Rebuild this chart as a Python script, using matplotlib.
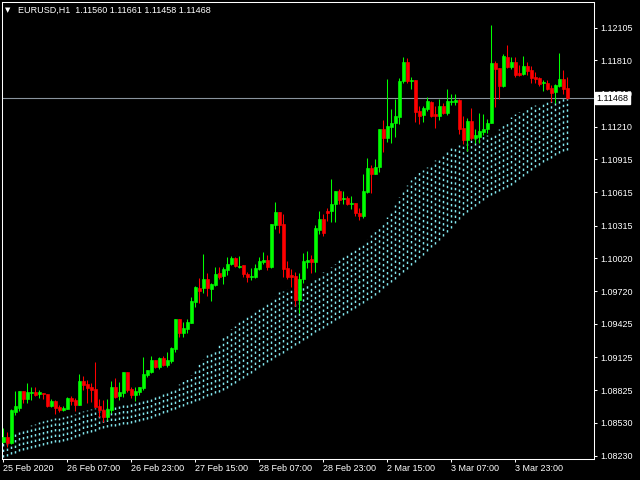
import matplotlib
matplotlib.use("Agg")
import matplotlib.pyplot as plt
import numpy as np

plt.rcParams['font.family'] = ['Liberation Sans', 'DejaVu Sans']

symbol = "EURUSD,H1"
last_ohlc = [1.11560, 1.11661, 1.11458, 1.11468]
current_price = 1.11468

opens = [
    1.08359, 1.08398, 1.08344, 1.08630, 1.08661, 1.08817, 1.08745, 1.08802, 1.08811, 1.08788,
    1.08797, 1.08790, 1.08684, 1.08727, 1.08675, 1.08645, 1.08654, 1.08757, 1.08736, 1.08691,
    1.08908, 1.08881, 1.08856, 1.08836, 1.08682, 1.08645, 1.08582, 1.08645, 1.08856, 1.08772,
    1.08797, 1.08989, 1.08833, 1.08781, 1.08811, 1.08847, 1.08962, 1.08992, 1.09098, 1.09037,
    1.09113, 1.09053, 1.09092, 1.09195, 1.09469, 1.09340, 1.09376, 1.09436, 1.09626, 1.09750,
    1.09747, 1.09828, 1.09741, 1.09777, 1.09883, 1.09861, 1.09913, 1.09967, 1.10018, 1.09942,
    1.09958, 1.09876, 1.09846, 1.09846, 1.09919, 1.09988, 1.10003, 1.09937, 1.10320, 1.10437,
    1.10329, 1.09928, 1.09867, 1.09858, 1.09641, 1.09828, 1.09988, 1.10009, 1.09988, 1.10275,
    1.10371, 1.10446, 1.10446, 1.10507, 1.10627, 1.10555, 1.10567, 1.10510, 1.10516, 1.10431,
    1.10404, 1.10621, 1.10838, 1.10781, 1.10842, 1.11189, 1.11104, 1.11209, 1.11240, 1.11300,
    1.11623, 1.11798, 1.11623, 1.11632, 1.11351, 1.11315, 1.11367, 1.11436, 1.11324, 1.11306,
    1.11397, 1.11331, 1.11436, 1.11436, 1.11451, 1.11200, 1.11089, 1.11261, 1.11110, 1.11119,
    1.11164, 1.11186, 1.11246, 1.11789, 1.11743, 1.11578, 1.11843, 1.11752, 1.11798, 1.11693,
    1.11684, 1.11759, 1.11723, 1.11662, 1.11653, 1.11602, 1.11608, 1.11562, 1.11526, 1.11580,
    1.11641, 1.11560,
]
highs = [
    1.08480, 1.08444, 1.08654, 1.08817, 1.08817, 1.08817, 1.08893, 1.08856, 1.08856, 1.08826,
    1.08802, 1.08790, 1.08742, 1.08736, 1.08691, 1.08684, 1.08766, 1.08772, 1.08751, 1.08971,
    1.08956, 1.08917, 1.08893, 1.09083, 1.08742, 1.08736, 1.08742, 1.08911, 1.08932, 1.08902,
    1.08989, 1.08989, 1.08856, 1.08856, 1.08851, 1.09122, 1.09008, 1.09134, 1.09098, 1.09122,
    1.09134, 1.09173, 1.09218, 1.09469, 1.09469, 1.09445, 1.09466, 1.09671, 1.09768, 1.09840,
    1.10057, 1.09883, 1.09798, 1.09937, 1.09937, 1.09942, 1.10027, 1.10039, 1.10033, 1.10042,
    1.09958, 1.09897, 1.09928, 1.09967, 1.10033, 1.10078, 1.10048, 1.10329, 1.10528, 1.10437,
    1.10419, 1.09994, 1.09922, 1.09894, 1.09888, 1.10069, 1.10084, 1.10048, 1.10320, 1.10446,
    1.10417, 1.10476, 1.10736, 1.10627, 1.10646, 1.10627, 1.10585, 1.10585, 1.10516, 1.10471,
    1.10779, 1.10929, 1.10863, 1.10917, 1.11189, 1.11270, 1.11641, 1.11367, 1.11460, 1.11647,
    1.11843, 1.11834, 1.11662, 1.11632, 1.11397, 1.11397, 1.11481, 1.11442, 1.11397, 1.11460,
    1.11421, 1.11551, 1.11505, 1.11505, 1.11460, 1.11306, 1.11285, 1.11376, 1.11189, 1.11331,
    1.11322, 1.11276, 1.12130, 1.11804, 1.11743, 1.11867, 1.11949, 1.11843, 1.11843, 1.11768,
    1.11849, 1.11798, 1.11759, 1.11707, 1.11662, 1.11632, 1.11632, 1.11587, 1.11596, 1.11879,
    1.11723, 1.11661,
]
lows = [
    1.08344, 1.08313, 1.08338, 1.08600, 1.08639, 1.08706, 1.08712, 1.08736, 1.08772, 1.08751,
    1.08742, 1.08675, 1.08675, 1.08609, 1.08630, 1.08636, 1.08654, 1.08691, 1.08639, 1.08691,
    1.08826, 1.08712, 1.08721, 1.08675, 1.08585, 1.08540, 1.08555, 1.08616, 1.08751, 1.08736,
    1.08766, 1.08811, 1.08751, 1.08730, 1.08781, 1.08826, 1.08941, 1.08978, 1.09023, 1.09014,
    1.09044, 1.09037, 1.09068, 1.09173, 1.09309, 1.09309, 1.09340, 1.09436, 1.09575, 1.09611,
    1.09702, 1.09677, 1.09632, 1.09770, 1.09828, 1.09786, 1.09867, 1.09958, 1.09942, 1.09928,
    1.09846, 1.09807, 1.09822, 1.09837, 1.09913, 1.09967, 1.09913, 1.09928, 1.10281, 1.10250,
    1.09852, 1.09828, 1.09761, 1.09587, 1.09521, 1.09792, 1.09928, 1.09883, 1.09897, 1.10238,
    1.10220, 1.10356, 1.10350, 1.10350, 1.10510, 1.10507, 1.10501, 1.10462, 1.10404, 1.10365,
    1.10386, 1.10607, 1.10612, 1.10781, 1.10802, 1.10983, 1.11074, 1.11065, 1.11113, 1.11234,
    1.11602, 1.11602, 1.11551, 1.11255, 1.11231, 1.11255, 1.11354, 1.11300, 1.11195, 1.11270,
    1.11322, 1.11315, 1.11406, 1.11406, 1.11141, 1.11053, 1.10992, 1.11089, 1.11059, 1.11059,
    1.11134, 1.11150, 1.11246, 1.11390, 1.11460, 1.11571, 1.11738, 1.11729, 1.11656, 1.11668,
    1.11677, 1.11677, 1.11608, 1.11602, 1.11580, 1.11535, 1.11542, 1.11436, 1.11421, 1.11571,
    1.11505, 1.11458,
]
closes = [
    1.08404, 1.08350, 1.08645, 1.08682, 1.08817, 1.08745, 1.08811, 1.08811, 1.08781, 1.08806,
    1.08788, 1.08684, 1.08727, 1.08661, 1.08645, 1.08666, 1.08751, 1.08727, 1.08691, 1.08908,
    1.08872, 1.08847, 1.08826, 1.08675, 1.08645, 1.08582, 1.08652, 1.08856, 1.08766, 1.08811,
    1.08989, 1.08826, 1.08781, 1.08817, 1.08851, 1.08971, 1.09008, 1.09098, 1.09032, 1.09113,
    1.09053, 1.09098, 1.09209, 1.09469, 1.09340, 1.09390, 1.09445, 1.09632, 1.09761, 1.09722,
    1.09828, 1.09747, 1.09786, 1.09874, 1.09852, 1.09919, 1.09967, 1.10018, 1.09949, 1.09951,
    1.09874, 1.09846, 1.09858, 1.09928, 1.09994, 1.10003, 1.09937, 1.10329, 1.10437, 1.10320,
    1.09922, 1.09846, 1.09846, 1.09641, 1.09828, 1.09997, 1.10003, 1.09988, 1.10290, 1.10371,
    1.10250, 1.10426, 1.10510, 1.10627, 1.10546, 1.10567, 1.10507, 1.10522, 1.10426, 1.10404,
    1.10627, 1.10838, 1.10781, 1.10847, 1.11189, 1.11104, 1.11216, 1.11246, 1.11306, 1.11623,
    1.11798, 1.11623, 1.11632, 1.11345, 1.11309, 1.11381, 1.11442, 1.11306, 1.11309, 1.11397,
    1.11331, 1.11442, 1.11445, 1.11447, 1.11189, 1.11089, 1.11261, 1.11104, 1.11134, 1.11170,
    1.11189, 1.11240, 1.11789, 1.11729, 1.11578, 1.11849, 1.11752, 1.11798, 1.11677, 1.11677,
    1.11759, 1.11713, 1.11653, 1.11641, 1.11596, 1.11611, 1.11551, 1.11517, 1.11587, 1.11641,
    1.11551, 1.11468,
]

# dotted indicator band (upper / lower edge per bar)
band_upper = [
    1.08356, 1.08381, 1.08406, 1.08431, 1.08457, 1.08483, 1.08496, 1.08508, 1.08521, 1.08534,
    1.08546, 1.08554, 1.08562, 1.08569, 1.08577, 1.08584, 1.08591, 1.08602, 1.08613, 1.08624,
    1.08635, 1.08645, 1.08654, 1.08663, 1.08673, 1.08682, 1.08691, 1.08697, 1.08703, 1.08709,
    1.08715, 1.08721, 1.08727, 1.08736, 1.08745, 1.08754, 1.08763, 1.08772, 1.08783, 1.08794,
    1.08805, 1.08815, 1.08826, 1.08853, 1.08880, 1.08907, 1.08934, 1.08962, 1.09010, 1.09080,
    1.09110, 1.09140, 1.09170, 1.09200, 1.09250, 1.09306, 1.09340, 1.09375, 1.09410, 1.09445,
    1.09478, 1.09496, 1.09514, 1.09532, 1.09559, 1.09587, 1.09614, 1.09647, 1.09680, 1.09713,
    1.09725, 1.09738, 1.09750, 1.09753, 1.09756, 1.09759, 1.09790, 1.09822, 1.09845, 1.09868,
    1.09890, 1.09913, 1.09942, 1.09971, 1.10000, 1.10030, 1.10053, 1.10076, 1.10098, 1.10121,
    1.10157, 1.10193, 1.10229, 1.10268, 1.10307, 1.10347, 1.10392, 1.10437, 1.10503, 1.10570,
    1.10636, 1.10681, 1.10727, 1.10772, 1.10796, 1.10821, 1.10845, 1.10875, 1.10905, 1.10935,
    1.10962, 1.10990, 1.11017, 1.11032, 1.11047, 1.11062, 1.11077, 1.11092, 1.11107, 1.11116,
    1.11125, 1.11134, 1.11145, 1.11156, 1.11192, 1.11228, 1.11265, 1.11301, 1.11322, 1.11344,
    1.11365, 1.11380, 1.11395, 1.11410, 1.11419, 1.11428, 1.11437, 1.11446, 1.11455, 1.11464,
    1.11466, 1.11468,
]
band_lower = [
    1.08220, 1.08233, 1.08246, 1.08258, 1.08271, 1.08284, 1.08293, 1.08302, 1.08311, 1.08320,
    1.08329, 1.08337, 1.08344, 1.08352, 1.08359, 1.08367, 1.08374, 1.08387, 1.08399, 1.08412,
    1.08424, 1.08437, 1.08448, 1.08459, 1.08470, 1.08481, 1.08492, 1.08498, 1.08504, 1.08510,
    1.08516, 1.08522, 1.08528, 1.08537, 1.08546, 1.08555, 1.08564, 1.08573, 1.08587, 1.08602,
    1.08616, 1.08631, 1.08645, 1.08658, 1.08671, 1.08683, 1.08696, 1.08709, 1.08724, 1.08738,
    1.08753, 1.08768, 1.08782, 1.08797, 1.08811, 1.08826, 1.08848, 1.08870, 1.08891, 1.08913,
    1.08935, 1.08959, 1.08983, 1.09007, 1.09032, 1.09056, 1.09080, 1.09101, 1.09122, 1.09143,
    1.09165, 1.09186, 1.09207, 1.09230, 1.09254, 1.09277, 1.09301, 1.09324, 1.09347, 1.09369,
    1.09392, 1.09415, 1.09437, 1.09460, 1.09482, 1.09505, 1.09527, 1.09549, 1.09571, 1.09593,
    1.09615, 1.09637, 1.09659, 1.09688, 1.09717, 1.09746, 1.09775, 1.09804, 1.09834, 1.09864,
    1.09894, 1.09925, 1.09955, 1.09985, 1.10018, 1.10051, 1.10085, 1.10118, 1.10151, 1.10184,
    1.10222, 1.10259, 1.10297, 1.10335, 1.10372, 1.10410, 1.10437, 1.10464, 1.10492, 1.10519,
    1.10546, 1.10573, 1.10591, 1.10609, 1.10628, 1.10646, 1.10664, 1.10682, 1.10709, 1.10736,
    1.10764, 1.10791, 1.10818, 1.10845, 1.10866, 1.10887, 1.10908, 1.10929, 1.10950, 1.10971,
    1.10985, 1.10999,
]

price_ticks = [1.12105, 1.11810, 1.11510, 1.11210, 1.10915, 1.10615, 1.10315,
               1.10020, 1.09720, 1.09425, 1.09125, 1.08825, 1.08530, 1.08230]
time_tick_bars = [0, 16, 32, 48, 64, 80, 96, 112, 128]
time_tick_labels = ["25 Feb 2020", "26 Feb 07:00", "26 Feb 23:00", "27 Feb 15:00",
                    "28 Feb 07:00", "28 Feb 23:00", "2 Mar 15:00", "3 Mar 07:00", "3 Mar 23:00"]

BULL = "#00ff00"
BEAR = "#ff0000"
BAND = "#86ecf4"

o = np.array(opens)
h = np.array(highs)
l = np.array(lows)
c = np.array(closes)
x = np.arange(len(o))
cols = np.where(c >= o, BULL, BEAR)

fig = plt.figure(figsize=(6.4, 4.8), dpi=100, facecolor="black")
ax = fig.add_axes([2 / 640, 21 / 480, 592 / 640, 457 / 480], facecolor="black")

# indicator band drawn as dotted columns, one per bar
ax.vlines(x, band_lower, band_upper, colors=BAND, linewidth=1.05,
          linestyles=(0, (1.6, 2.2)), zorder=1)

# bid line
ax.axhline(current_price, color="#8a949e", linewidth=0.8, zorder=1.5)

# candles
ax.vlines(x, l, h, colors=cols, linewidth=0.75, zorder=2)
ax.bar(x, np.abs(c - o), bottom=np.minimum(o, c), width=0.62,
       color=cols, edgecolor=cols, linewidth=0.45, zorder=3)

ax.set_xlim(-0.325, 147.675)
ax.set_ylim(1.08202, 1.12338)

for s in ax.spines.values():
    s.set_color("white")
    s.set_linewidth(0.75)

ax.yaxis.tick_right()
ax.set_yticks(price_ticks)
ax.set_yticklabels([f"{p:.5f}" for p in price_ticks])
ax.tick_params(axis="y", direction="out", length=2.2, width=0.75, colors="white",
               labelsize=6.5, pad=2)
ax.set_xticks(time_tick_bars)
ax.set_xticklabels(time_tick_labels)
for lbl in ax.get_xticklabels():
    lbl.set_horizontalalignment("left")
ax.tick_params(axis="x", direction="out", length=2.2, width=0.75, colors="white",
               labelsize=6.5, pad=1.5)

# current price tag on the scale (sits over the nearest scale label, as in the terminal)
ax.annotate(f"{current_price:.5f}", xy=(1, current_price), xycoords=ax.get_yaxis_transform(),
            xytext=(2, 0), textcoords="offset points", ha="left", va="center",
            fontsize=6.5, color="black", annotation_clip=False, zorder=10,
            bbox=dict(boxstyle="square,pad=0.18", fc="white", ec="white"))

# header
fig.text(5 / 640, 1 - 10 / 480, "\u25bc", fontsize=5, color="white", va="center",
         family="DejaVu Sans")
fig.text(18 / 640, 1 - 10 / 480,
         symbol + "  " + " ".join(f"{v:.5f}" for v in last_ohlc),
         fontsize=6.5, color="white", va="center")

fig.savefig("out.png", dpi=100, facecolor="black")
